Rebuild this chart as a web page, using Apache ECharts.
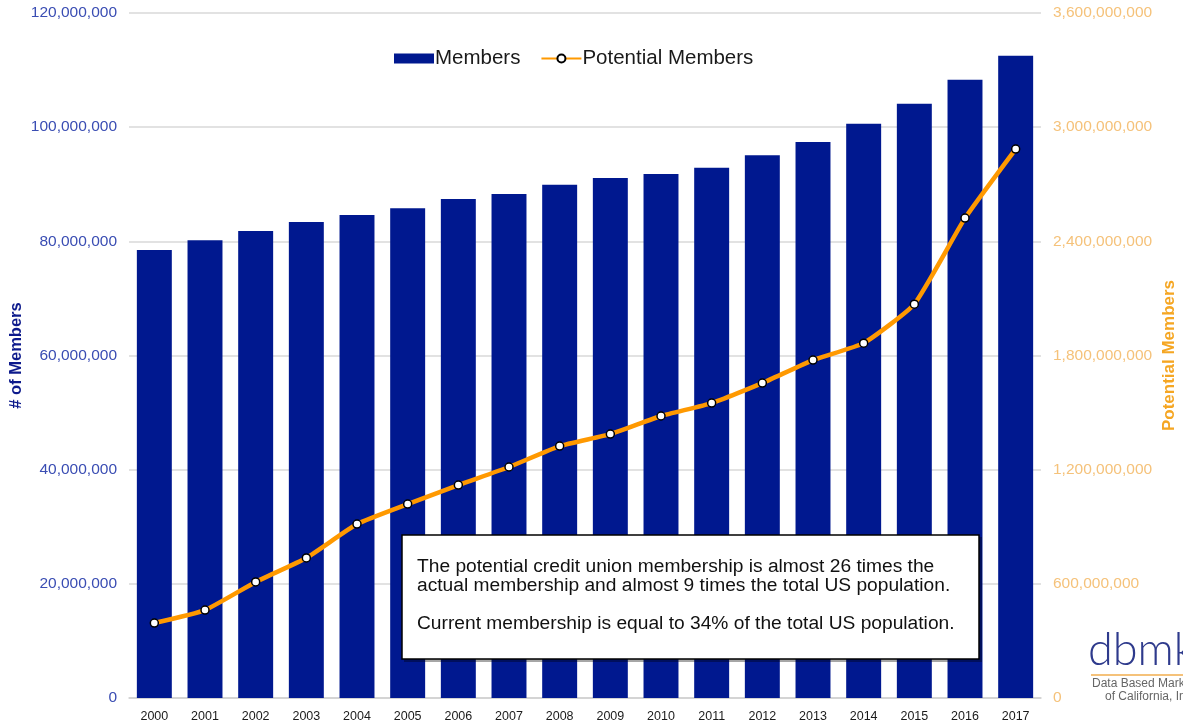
<!DOCTYPE html>
<html><head><meta charset="utf-8">
<script src="https://cdn.jsdelivr.net/npm/echarts@6/dist/echarts.min.js"></script>
<style>html,body{margin:0;padding:0;background:#fff}#c{width:1183px;height:724px}</style>
</head><body><div id="c"></div>
<script>
const years = ['2000','2001','2002','2003','2004','2005','2006','2007','2008','2009','2010','2011','2012','2013','2014','2015','2016','2017'];
const members = [78.5e6,80.2e6,81.8e6,83.4e6,84.6e6,85.8e6,87.4e6,88.3e6,89.9e6,91.1e6,91.8e6,92.9e6,95.1e6,97.4e6,100.6e6,104.1e6,108.3e6,112.5e6];
const potentialMembers = [394e6,462e6,610e6,736e6,914e6,1019e6,1119e6,1214e6,1324e6,1387e6,1482e6,1550e6,1655e6,1776e6,1865e6,2070e6,2522e6,2885e6];
const noteLines = ['The potential credit union membership is almost 26 times the','actual membership and almost 9 times the total US population.','','Current membership is equal to 34% of the total US population.'];

const FONT = '"Liberation Sans", Arial, Helvetica, sans-serif';
const fmt = v => Math.round(v).toLocaleString('en-US');
const chart = echarts.init(document.getElementById('c'));
chart.setOption({
  animation: false,
  textStyle: {fontFamily: FONT},
  grid: {left: 129, right: 142, top: 13, bottom: 26, containLabel: false, outerBoundsMode: 'none'},
  legend: {
    top: 43, left: 389, itemGap: 20, itemWidth: 40, itemHeight: 10,
    textStyle: {fontSize: 20.5, color: '#1a1a1a', fontFamily: FONT, padding: [0,0,0,-4]},
    data: [{name: 'Members', icon: 'rect'}, {name: 'Potential Members'}]
  },
  xAxis: {
    type: 'category', data: years,
    axisLine: {lineStyle: {color: '#d0d0d0', width: 1.5}},
    axisTick: {show: false},
    axisLabel: {color: '#1a1a1a', fontSize: 12.5, margin: 12}
  },
  yAxis: [{
    type: 'value', min: 0, max: 120e6, interval: 20e6,
    name: '# of Members', nameLocation: 'middle', nameGap: 104, nameMoveOverlap: false,
    nameTextStyle: {color: '#0d1a8c', fontWeight: 'bold', fontSize: 16.5},
    axisLabel: {color: '#3a4db3', fontSize: 15.5, margin: 12, formatter: fmt},
    splitLine: {lineStyle: {color: '#d9d9d9', width: 1.5}},
    axisLine: {show: false}, axisTick: {show: false}
  }, {
    type: 'value', min: 0, max: 3.6e9, interval: 0.6e9,
    name: 'Potential Members', nameLocation: 'middle', nameGap: 120, nameRotate: 90, nameMoveOverlap: false,
    nameTextStyle: {color: '#f5a623', fontWeight: 'bold', fontSize: 17},
    axisLabel: {color: '#f5c27a', fontSize: 15.5, margin: 12, formatter: fmt},
    splitLine: {show: false},
    axisLine: {show: false}, axisTick: {show: false}
  }],
  series: [{
    name: 'Members', type: 'bar', data: members, yAxisIndex: 0,
    barCategoryGap: '31%', itemStyle: {color: '#00188f'}, z: 1
  }, {
    name: 'Potential Members', type: 'line', data: potentialMembers, yAxisIndex: 1,
    smooth: 0.15, symbol: 'circle', symbolSize: 8,
    lineStyle: {color: '#ff9900', width: 4.5},
    itemStyle: {color: '#ffffff', borderColor: '#000000', borderWidth: 1.5},
    z: 3
  }],
  graphic: [
    {type: 'rect', shape: {x: 404, y: 537, width: 578, height: 125}, style: {fill: 'rgba(0,0,0,0.35)'}, z: 10},
    {type: 'rect', shape: {x: 402, y: 535, width: 577, height: 124}, style: {fill: '#ffffff', stroke: '#000000', lineWidth: 1.5}, z: 11},
    {type: 'text', left: 417, top: 557, z: 12, style: {text: noteLines.join('\n'), font: '19.2px ' + FONT, fill: '#111111', lineHeight: 19}},
    {type: 'text', left: 1088, top: 628, z: 12, style: {text: 'dbmk', font: '300 45px Lato, "Open Sans", ' + FONT, fill: '#2e3a8c'}},
    {type: 'rect', shape: {x: 1091, y: 674, width: 92, height: 2}, style: {fill: '#f5c27a'}, z: 12},
    {type: 'text', left: 1092, top: 678, z: 12, style: {text: 'Data Based Marketing', font: '12px ' + FONT, fill: '#666666'}},
    {type: 'text', left: 1105, top: 691, z: 12, style: {text: 'of California, Inc.', font: '12px ' + FONT, fill: '#666666'}}
  ]
});
</script></body></html>
